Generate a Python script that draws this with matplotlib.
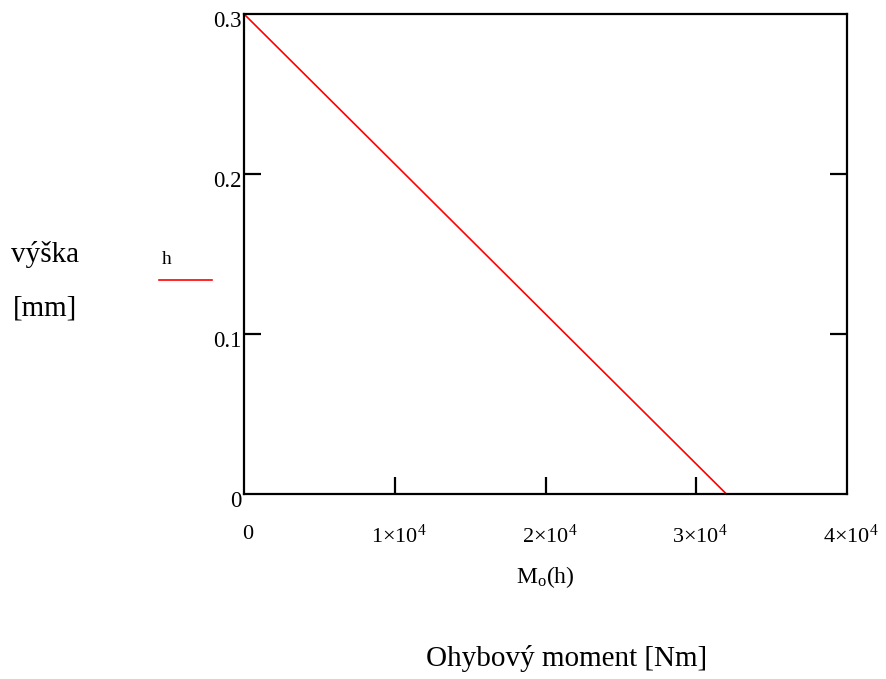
import matplotlib
matplotlib.use("Agg")
import matplotlib.pyplot as plt
import matplotlib.transforms as mtransforms

plt.rcParams['font.family'] = ['Liberation Serif', 'DejaVu Serif']
plt.rcParams['mathtext.fontset'] = 'custom'
plt.rcParams['mathtext.rm'] = 'Liberation Serif'
plt.rcParams['mathtext.it'] = 'Liberation Serif'

# data
h_values = [0.0, 0.1, 0.2, 0.3]
moment_values = [32000, 21330, 10670, 0]

x_ticks = [0, 10000, 20000, 30000, 40000]
x_tick_labels = ["0", "1×10$^{4}$", "2×10$^{4}$", "3×10$^{4}$", "4×10$^{4}$"]
y_ticks = [0, 0.1, 0.2, 0.3]
y_tick_labels = ["0", "0.1", "0.2", "0.3"]

fig = plt.figure(figsize=(8.86, 6.79), dpi=100)
ax = fig.add_axes([244/886, 1-494/679, (847-244)/886, (494-14)/679])

ax.plot(moment_values, h_values, color='#ff0000', lw=1.2, clip_on=False)

ax.set_xlim(0, 40000)
ax.set_ylim(0, 0.3)
for s in ax.spines.values():
    s.set_linewidth(1.6)
    s.set_color('black')

ax.set_xticks(x_ticks)
ax.set_xticklabels(x_tick_labels, fontsize=16)
ax.set_yticks(y_ticks)
ax.set_yticklabels(y_tick_labels, fontsize=16.5)
ax.tick_params(axis='x', direction='in', length=12, width=1.6, pad=22, top=False)
ax.tick_params(axis='y', direction='in', length=12, width=1.6, pad=2, right=True)
for t in ax.xaxis.get_major_ticks()[0::4]:
    t.tick1line.set_visible(False)
for t in ax.yaxis.get_major_ticks()[0::3]:
    t.tick1line.set_visible(False)
    t.tick2line.set_visible(False)

off_x = mtransforms.ScaledTranslation(4/100, 0, fig.dpi_scale_trans)
for lbl in ax.get_xticklabels():
    lbl.set_transform(lbl.get_transform() + off_x)
off_y = mtransforms.ScaledTranslation(0, -5/100, fig.dpi_scale_trans)
for lbl in ax.get_yticklabels():
    lbl.set_transform(lbl.get_transform() + off_y)

ax.set_xlabel("M$_{\\mathrm{o}}$(h)", fontsize=17, labelpad=12)

fig.text(11/886, 1-254/679, "výška", fontsize=21, va='center', ha='left')
fig.text(13/886, 1-309/679, "[mm]", fontsize=21, va='center', ha='left')
fig.text(162/886, 1-259/679, "h", fontsize=14, va='center', ha='left')
fig.add_artist(plt.Line2D([159/886, 212/886], [1-280/679, 1-280/679], color='#ff0000', lw=1.2))
fig.text(426/886, 1-658/679, "Ohybový moment [Nm]", fontsize=21, va='center', ha='left')

fig.savefig("out.png", dpi=100)
